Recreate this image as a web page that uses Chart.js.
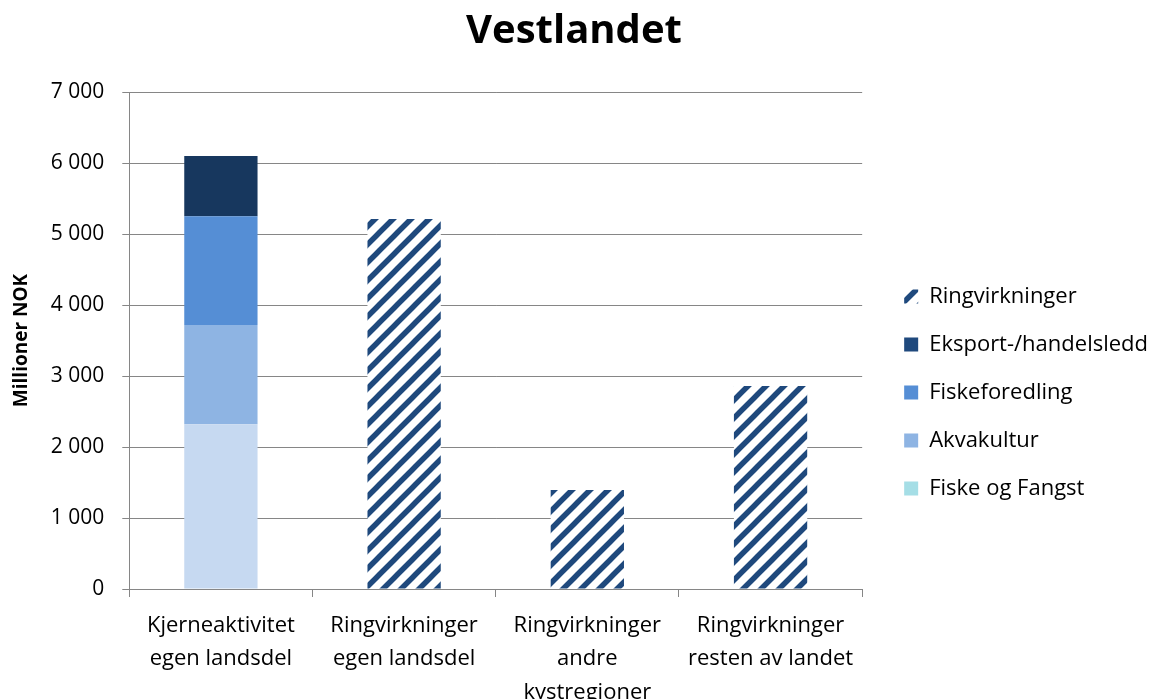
<!DOCTYPE html>
<html lang="no">
<head>
    <meta charset="UTF-8">
    <title>Vestlandet</title>
    <script src="https://cdn.jsdelivr.net/npm/chart.js"></script>
    <style>
        html, body { margin: 0; padding: 0; background: #fff; }
        #chartBox { width: 1157px; height: 699px; }
    </style>
</head>
<body>
<div id="chartBox"><canvas id="vestChart"></canvas></div>
<script>
    // data (millioner NOK)
    const categories = [
        ['Kjerneaktivitet', 'egen landsdel'],
        ['Ringvirkninger', 'egen landsdel'],
        ['Ringvirkninger', 'andre', 'kystregioner'],
        ['Ringvirkninger', 'resten av landet']
    ];
    const fiskeOgFangst = [2320, null, null, null];
    const akvakultur = [1400, null, null, null];
    const fiskeforedling = [1530, null, null, null];
    const eksport = [850, null, null, null];
    const ringvirkninger = [null, 5210, 1395, 2860];
    const yMax = 7000;
    const yStep = 1000;

    const FONT = "'Open Sans', sans-serif";

    // diagonal stripe fill for Ringvirkninger
    function stripes(color) {
        const s = 18;
        const c = document.createElement('canvas');
        c.width = s; c.height = s;
        const g = c.getContext('2d');
        g.fillStyle = '#fff';
        g.fillRect(0, 0, s, s);
        g.strokeStyle = color;
        g.lineWidth = 5.5;
        g.beginPath();
        g.moveTo(-2, s + 2); g.lineTo(s + 2, -2);
        g.moveTo(-4, 4); g.lineTo(4, -4);
        g.moveTo(s - 4, s + 4); g.lineTo(s + 4, s - 4);
        g.stroke();
        return g.createPattern(c, 'repeat');
    }
    const ringFill = stripes('#1F497D');

    // legend swatch colours differ slightly from the bar segments in the original
    const legendColors = {
        'Fiske og Fangst': '#A5DEE6',
        'Eksport-/handelsledd': '#1F497D'
    };

    // nudge the legend right/down, like the original
    const legendShift = {
        id: 'legendShift',
        afterLayout(chart) {
            const lg = chart.legend;
            if (!lg) return;
            lg.left += 16; lg.right += 16;
            lg.top += 41; lg.bottom += 41;
        }
    };

    const ctx = document.getElementById('vestChart').getContext('2d');
    new Chart(ctx, {
        type: 'bar',
        data: {
            labels: categories,
            datasets: [
                { label: 'Fiske og Fangst', data: fiskeOgFangst, backgroundColor: '#C6D9F1' },
                { label: 'Akvakultur', data: akvakultur, backgroundColor: '#8EB4E3' },
                { label: 'Fiskeforedling', data: fiskeforedling, backgroundColor: '#558ED5' },
                { label: 'Eksport-/handelsledd', data: eksport, backgroundColor: '#17375E' },
                { label: 'Ringvirkninger', data: ringvirkninger, backgroundColor: ringFill }
            ]
        },
        options: {
            responsive: true,
            maintainAspectRatio: false,
            animation: false,
            datasets: { bar: { barPercentage: 0.4, categoryPercentage: 1 } },
            layout: { padding: { left: 6, right: 15, top: 4, bottom: 0 } },
            plugins: {
                title: {
                    display: true,
                    text: 'Vestlandet',
                    color: '#000',
                    font: { family: FONT, size: 40, weight: 'bold' },
                    padding: { top: 4, bottom: 36 }
                },
                legend: {
                    position: 'right',
                    reverse: true,
                    labels: {
                        color: '#000',
                        font: { family: FONT, size: 22 },
                        boxWidth: 14,
                        boxHeight: 14,
                        padding: 26,
                        generateLabels(chart) {
                            const items = Chart.defaults.plugins.legend.labels.generateLabels(chart);
                            items.forEach(it => {
                                if (legendColors[it.text]) it.fillStyle = legendColors[it.text];
                                it.lineWidth = 0;
                            });
                            return items;
                        }
                    }
                },
                tooltip: { enabled: false }
            },
            scales: {
                x: {
                    stacked: true,
                    grid: { display: true, drawOnChartArea: false, color: '#868686', tickLength: 8, offset: true },
                    border: { color: '#868686' },
                    ticks: {
                        color: '#000',
                        font: { family: FONT, size: 22, lineHeight: 1.52 },
                        padding: 12,
                        maxRotation: 0,
                        autoSkip: false
                    },
                    // the last label line runs off the bottom edge in the original
                    afterFit(axis) { axis.height = 110; }
                },
                y: {
                    stacked: true,
                    min: 0,
                    max: yMax,
                    grid: { color: '#868686', tickLength: 7 },
                    border: { color: '#868686' },
                    ticks: {
                        stepSize: yStep,
                        color: '#000',
                        font: { family: FONT, size: 21 },
                        padding: 18,
                        callback: v => String(v).replace(/\B(?=(\d{3})+(?!\d))/g, ' ')
                    },
                    title: {
                        display: true,
                        text: 'Millioner NOK',
                        color: '#000',
                        font: { family: FONT, size: 19, weight: 'bold' },
                        padding: { top: 4, bottom: 0 }
                    }
                }
            }
        },
        plugins: [legendShift]
    });
</script>
</body>
</html>
